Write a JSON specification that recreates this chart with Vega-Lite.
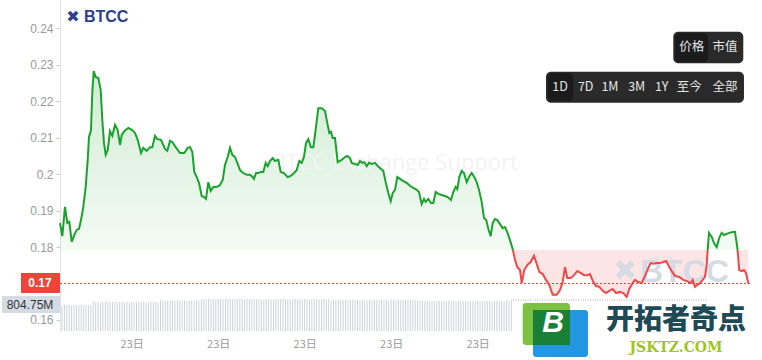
{
"$schema":"https://vega.github.io/schema/vega-lite/v6.json",
"width":690,"height":331,
"autosize":{"type":"none"},
"padding":{"left":60,"top":0,"right":12,"bottom":29},
"background":"white",
"config":{"view":{"stroke":null},"font":"Liberation Sans"},
"datasets":{
"price":[
{"t":0.513,"v":0.1866},{"t":0.593,"v":0.1830},{"t":0.686,"v":0.1910},{"t":0.766,"v":0.1866},{"t":0.836,"v":0.1869},{"t":0.919,"v":0.1814},{"t":1.009,"v":0.1833},{"t":1.092,"v":0.1847},{"t":1.172,"v":0.1850},{"t":1.241,"v":0.1874},{"t":1.321,"v":0.1910},{"t":1.404,"v":0.1965},{"t":1.474,"v":0.2039},{"t":1.519,"v":0.2102},{"t":1.588,"v":0.2121},{"t":1.633,"v":0.2223},{"t":1.682,"v":0.2283},{"t":1.751,"v":0.2266},{"t":1.841,"v":0.2264},{"t":1.925,"v":0.2231},{"t":1.980,"v":0.2149},{"t":2.039,"v":0.2085},{"t":2.098,"v":0.2053},{"t":2.168,"v":0.2066},{"t":2.247,"v":0.2118},{"t":2.327,"v":0.2105},{"t":2.421,"v":0.2135},{"t":2.514,"v":0.2121},{"t":2.594,"v":0.2080},{"t":2.653,"v":0.2107},{"t":2.743,"v":0.2118},{"t":2.882,"v":0.2127},{"t":3.021,"v":0.2121},{"t":3.114,"v":0.2113},{"t":3.208,"v":0.2094},{"t":3.323,"v":0.2058},{"t":3.402,"v":0.2072},{"t":3.520,"v":0.2064},{"t":3.635,"v":0.2074},{"t":3.714,"v":0.2074},{"t":3.808,"v":0.2105},{"t":3.888,"v":0.2096},{"t":4.016,"v":0.2094},{"t":4.155,"v":0.2069},{"t":4.235,"v":0.2064},{"t":4.328,"v":0.2091},{"t":4.408,"v":0.2088},{"t":4.526,"v":0.2074},{"t":4.675,"v":0.2058},{"t":4.824,"v":0.2058},{"t":4.942,"v":0.2072},{"t":5.022,"v":0.2074},{"t":5.102,"v":0.2061},{"t":5.171,"v":0.2006},{"t":5.255,"v":0.1992},{"t":5.334,"v":0.1976},{"t":5.428,"v":0.1940},{"t":5.508,"v":0.1937},{"t":5.577,"v":0.1932},{"t":5.657,"v":0.1978},{"t":5.740,"v":0.1954},{"t":5.830,"v":0.1965},{"t":5.948,"v":0.1965},{"t":6.063,"v":0.1970},{"t":6.157,"v":0.1984},{"t":6.236,"v":0.2025},{"t":6.330,"v":0.2047},{"t":6.410,"v":0.2072},{"t":6.490,"v":0.2053},{"t":6.583,"v":0.2047},{"t":6.663,"v":0.2031},{"t":6.757,"v":0.2011},{"t":6.871,"v":0.2003},{"t":6.989,"v":0.1998},{"t":7.104,"v":0.1998},{"t":7.197,"v":0.1992},{"t":7.242,"v":0.1987},{"t":7.312,"v":0.2003},{"t":7.391,"v":0.2003},{"t":7.475,"v":0.2006},{"t":7.565,"v":0.2006},{"t":7.648,"v":0.2031},{"t":7.717,"v":0.2022},{"t":7.797,"v":0.2036},{"t":7.891,"v":0.2044},{"t":7.971,"v":0.2036},{"t":8.085,"v":0.2039},{"t":8.168,"v":0.2006},{"t":8.283,"v":0.2003},{"t":8.411,"v":0.1992},{"t":8.515,"v":0.1995},{"t":8.630,"v":0.2003},{"t":8.723,"v":0.2011},{"t":8.813,"v":0.2036},{"t":8.897,"v":0.2031},{"t":8.976,"v":0.2047},{"t":9.046,"v":0.2085},{"t":9.125,"v":0.2096},{"t":9.219,"v":0.2074},{"t":9.299,"v":0.2074},{"t":9.393,"v":0.2129},{"t":9.472,"v":0.2181},{"t":9.590,"v":0.2181},{"t":9.705,"v":0.2173},{"t":9.785,"v":0.2140},{"t":9.854,"v":0.2113},{"t":9.913,"v":0.2116},{"t":9.972,"v":0.2099},{"t":10.052,"v":0.2099},{"t":10.145,"v":0.2033},{"t":10.284,"v":0.2039},{"t":10.398,"v":0.2047},{"t":10.478,"v":0.2050},{"t":10.572,"v":0.2044},{"t":10.630,"v":0.2031},{"t":10.745,"v":0.2028},{"t":10.839,"v":0.2025},{"t":10.919,"v":0.2036},{"t":10.998,"v":0.2031},{"t":11.068,"v":0.2033},{"t":11.151,"v":0.2022},{"t":11.231,"v":0.2031},{"t":11.325,"v":0.2028},{"t":11.439,"v":0.2031},{"t":11.533,"v":0.2022},{"t":11.647,"v":0.2014},{"t":11.727,"v":0.2009},{"t":11.810,"v":0.1978},{"t":11.900,"v":0.1948},{"t":11.984,"v":0.1926},{"t":12.053,"v":0.1948},{"t":12.133,"v":0.1957},{"t":12.213,"v":0.1992},{"t":12.306,"v":0.1987},{"t":12.421,"v":0.1981},{"t":12.539,"v":0.1976},{"t":12.653,"v":0.1968},{"t":12.768,"v":0.1962},{"t":12.886,"v":0.1957},{"t":12.965,"v":0.1951},{"t":13.059,"v":0.1918},{"t":13.139,"v":0.1932},{"t":13.198,"v":0.1924},{"t":13.288,"v":0.1932},{"t":13.382,"v":0.1921},{"t":13.461,"v":0.1921},{"t":13.544,"v":0.1951},{"t":13.635,"v":0.1946},{"t":13.753,"v":0.1943},{"t":13.867,"v":0.1940},{"t":13.961,"v":0.1937},{"t":14.075,"v":0.1929},{"t":14.155,"v":0.1951},{"t":14.238,"v":0.1965},{"t":14.294,"v":0.1959},{"t":14.363,"v":0.1992},{"t":14.447,"v":0.2009},{"t":14.526,"v":0.2003},{"t":14.620,"v":0.1978},{"t":14.700,"v":0.1992},{"t":14.793,"v":0.2003},{"t":14.883,"v":0.1992},{"t":14.966,"v":0.1978},{"t":15.046,"v":0.1957},{"t":15.140,"v":0.1924},{"t":15.220,"v":0.1880},{"t":15.299,"v":0.1874},{"t":15.369,"v":0.1850},{"t":15.452,"v":0.1830},{"t":15.521,"v":0.1866},{"t":15.601,"v":0.1877},{"t":15.681,"v":0.1874},{"t":15.775,"v":0.1863},{"t":15.868,"v":0.1852},{"t":15.948,"v":0.1855},{"t":16.028,"v":0.1841},{"t":16.122,"v":0.1819},{"t":16.215,"v":0.1795},{"t":16.295,"v":0.1765},{"t":16.375,"v":0.1745},{"t":16.469,"v":0.1737},{"t":16.528,"v":0.1701},{"t":16.618,"v":0.1737},{"t":16.722,"v":0.1751},{"t":16.840,"v":0.1759},{"t":16.954,"v":0.1776},{"t":17.048,"v":0.1754},{"t":17.138,"v":0.1732},{"t":17.256,"v":0.1726},{"t":17.370,"v":0.1710},{"t":17.485,"v":0.1696},{"t":17.603,"v":0.1669},{"t":17.742,"v":0.1669},{"t":17.856,"v":0.1682},{"t":17.950,"v":0.1704},{"t":18.030,"v":0.1745},{"t":18.109,"v":0.1715},{"t":18.227,"v":0.1715},{"t":18.342,"v":0.1723},{"t":18.456,"v":0.1734},{"t":18.574,"v":0.1729},{"t":18.689,"v":0.1723},{"t":18.803,"v":0.1723},{"t":18.897,"v":0.1726},{"t":19.011,"v":0.1704},{"t":19.105,"v":0.1693},{"t":19.219,"v":0.1691},{"t":19.337,"v":0.1680},{"t":19.452,"v":0.1674},{"t":19.566,"v":0.1680},{"t":19.684,"v":0.1685},{"t":19.798,"v":0.1674},{"t":19.937,"v":0.1677},{"t":20.052,"v":0.1674},{"t":20.170,"v":0.1663},{"t":20.260,"v":0.1685},{"t":20.378,"v":0.1701},{"t":20.458,"v":0.1710},{"t":20.572,"v":0.1704},{"t":20.690,"v":0.1701},{"t":20.805,"v":0.1721},{"t":20.919,"v":0.1743},{"t":21.002,"v":0.1756},{"t":21.093,"v":0.1754},{"t":21.210,"v":0.1756},{"t":21.325,"v":0.1756},{"t":21.439,"v":0.1759},{"t":21.533,"v":0.1762},{"t":21.613,"v":0.1751},{"t":21.731,"v":0.1734},{"t":21.845,"v":0.1721},{"t":21.994,"v":0.1718},{"t":22.133,"v":0.1710},{"t":22.251,"v":0.1707},{"t":22.390,"v":0.1701},{"t":22.459,"v":0.1710},{"t":22.539,"v":0.1691},{"t":22.619,"v":0.1696},{"t":22.712,"v":0.1701},{"t":22.806,"v":0.1710},{"t":22.885,"v":0.1718},{"t":22.944,"v":0.1751},{"t":22.979,"v":0.1792},{"t":23.024,"v":0.1839},{"t":23.118,"v":0.1828},{"t":23.198,"v":0.1811},{"t":23.291,"v":0.1800},{"t":23.381,"v":0.1825},{"t":23.464,"v":0.1839},{"t":23.544,"v":0.1833},{"t":23.638,"v":0.1836},{"t":23.728,"v":0.1839},{"t":23.846,"v":0.1841},{"t":23.926,"v":0.1841},{"t":24.006,"v":0.1800},{"t":24.075,"v":0.1737},{"t":24.159,"v":0.1734},{"t":24.239,"v":0.1737},{"t":24.308,"v":0.1729},{"t":24.388,"v":0.1701}
],
"vol":[
{"t":0.5833,"vol":785},{"t":0.6667,"vol":797},{"t":0.75,"vol":777},{"t":0.8333,"vol":790},{"t":0.9167,"vol":770},{"t":1,"vol":794},{"t":1.0833,"vol":788},{"t":1.1667,"vol":775},{"t":1.25,"vol":799},{"t":1.3333,"vol":781},{"t":1.4167,"vol":792},{"t":1.5,"vol":773},{"t":1.5833,"vol":785},
{"t":1.6667,"vol":888},{"t":1.75,"vol":868},{"t":1.8333,"vol":881},{"t":1.9167,"vol":861},{"t":2,"vol":885},{"t":2.0833,"vol":879},{"t":2.1667,"vol":866},{"t":2.25,"vol":890},{"t":2.3333,"vol":872},{"t":2.4167,"vol":883},{"t":2.5,"vol":864},{"t":2.5833,"vol":876},{"t":2.6667,"vol":888},{"t":2.75,"vol":868},{"t":2.8333,"vol":881},{"t":2.9167,"vol":861},{"t":3,"vol":885},{"t":3.0833,"vol":879},{"t":3.1667,"vol":866},{"t":3.25,"vol":890},{"t":3.3333,"vol":872},{"t":3.4167,"vol":883},{"t":3.5,"vol":864},{"t":3.5833,"vol":876},{"t":3.6667,"vol":888},{"t":3.75,"vol":868},{"t":3.8333,"vol":881},{"t":3.9167,"vol":861},
{"t":4,"vol":930},{"t":4.0833,"vol":924},{"t":4.1667,"vol":911},{"t":4.25,"vol":935},{"t":4.3333,"vol":917},{"t":4.4167,"vol":928},{"t":4.5,"vol":909},{"t":4.5833,"vol":921},{"t":4.6667,"vol":933},{"t":4.75,"vol":913},{"t":4.8333,"vol":926},{"t":4.9167,"vol":906},{"t":5,"vol":930},{"t":5.0833,"vol":924},{"t":5.1667,"vol":911},{"t":5.25,"vol":935},{"t":5.3333,"vol":917},
{"t":5.4167,"vol":974},{"t":5.5,"vol":955},{"t":5.5833,"vol":967},{"t":5.6667,"vol":979},{"t":5.75,"vol":959},{"t":5.8333,"vol":972},{"t":5.9167,"vol":952},{"t":6,"vol":976},{"t":6.0833,"vol":970},{"t":6.1667,"vol":957},{"t":6.25,"vol":981},{"t":6.3333,"vol":963},{"t":6.4167,"vol":974},{"t":6.5,"vol":955},{"t":6.5833,"vol":967},{"t":6.6667,"vol":979},{"t":6.75,"vol":959},{"t":6.8333,"vol":972},{"t":6.9167,"vol":952},{"t":7,"vol":976},{"t":7.0833,"vol":970},
{"t":7.1667,"vol":950},{"t":7.25,"vol":974},{"t":7.3333,"vol":956},{"t":7.4167,"vol":967},{"t":7.5,"vol":948},{"t":7.5833,"vol":960},{"t":7.6667,"vol":972},{"t":7.75,"vol":952},{"t":7.8333,"vol":965},{"t":7.9167,"vol":945},{"t":8,"vol":969},{"t":8.0833,"vol":963},{"t":8.1667,"vol":950},{"t":8.25,"vol":974},{"t":8.3333,"vol":956},{"t":8.4167,"vol":967},{"t":8.5,"vol":948},{"t":8.5833,"vol":960},{"t":8.6667,"vol":972},{"t":8.75,"vol":952},{"t":8.8333,"vol":965},{"t":8.9167,"vol":945},{"t":9,"vol":969},{"t":9.0833,"vol":963},{"t":9.1667,"vol":950},{"t":9.25,"vol":974},{"t":9.3333,"vol":956},{"t":9.4167,"vol":967},{"t":9.5,"vol":948},{"t":9.5833,"vol":960},{"t":9.6667,"vol":972},{"t":9.75,"vol":952},{"t":9.8333,"vol":965},
{"t":9.9167,"vol":922},{"t":10,"vol":946},{"t":10.0833,"vol":940},{"t":10.1667,"vol":927},{"t":10.25,"vol":951},{"t":10.3333,"vol":933},{"t":10.4167,"vol":944},{"t":10.5,"vol":925},{"t":10.5833,"vol":937},{"t":10.6667,"vol":949},{"t":10.75,"vol":929},{"t":10.8333,"vol":942},{"t":10.9167,"vol":922},{"t":11,"vol":946},{"t":11.0833,"vol":940},{"t":11.1667,"vol":927},{"t":11.25,"vol":951},{"t":11.3333,"vol":933},{"t":11.4167,"vol":944},{"t":11.5,"vol":925},{"t":11.5833,"vol":937},{"t":11.6667,"vol":949},{"t":11.75,"vol":929},{"t":11.8333,"vol":942},{"t":11.9167,"vol":922},{"t":12,"vol":946},{"t":12.0833,"vol":940},{"t":12.1667,"vol":927},{"t":12.25,"vol":951},{"t":12.3333,"vol":933},{"t":12.4167,"vol":944},{"t":12.5,"vol":925},{"t":12.5833,"vol":937},{"t":12.6667,"vol":949},{"t":12.75,"vol":929},{"t":12.8333,"vol":942},{"t":12.9167,"vol":922},
{"t":13,"vol":915},{"t":13.0833,"vol":909},{"t":13.1667,"vol":896},{"t":13.25,"vol":920},{"t":13.3333,"vol":902},{"t":13.4167,"vol":913},{"t":13.5,"vol":894},{"t":13.5833,"vol":906},{"t":13.6667,"vol":918},{"t":13.75,"vol":898},{"t":13.8333,"vol":911},{"t":13.9167,"vol":891},{"t":14,"vol":915},{"t":14.0833,"vol":909},{"t":14.1667,"vol":896},{"t":14.25,"vol":920},{"t":14.3333,"vol":902},{"t":14.4167,"vol":913},{"t":14.5,"vol":894},{"t":14.5833,"vol":906},{"t":14.6667,"vol":918},{"t":14.75,"vol":898},{"t":14.8333,"vol":911},{"t":14.9167,"vol":891},{"t":15,"vol":915},{"t":15.0833,"vol":909},{"t":15.1667,"vol":896},{"t":15.25,"vol":920},{"t":15.3333,"vol":902},{"t":15.4167,"vol":913},{"t":15.5,"vol":894},{"t":15.5833,"vol":906},{"t":15.6667,"vol":918},{"t":15.75,"vol":898},{"t":15.8333,"vol":911},{"t":15.9167,"vol":891},{"t":16,"vol":915},{"t":16.0833,"vol":909},
{"t":16.1667,"vol":954},{"t":16.25,"vol":978},{"t":16.3333,"vol":960},{"t":16.4167,"vol":971},{"t":16.5,"vol":952},{"t":16.5833,"vol":964},{"t":16.6667,"vol":976},{"t":16.75,"vol":956},{"t":16.8333,"vol":969},{"t":16.9167,"vol":949},{"t":17,"vol":973},{"t":17.0833,"vol":967},{"t":17.1667,"vol":954},{"t":17.25,"vol":967},{"t":17.3333,"vol":979},{"t":17.4167,"vol":959},{"t":17.5,"vol":972},{"t":17.5833,"vol":952},{"t":17.6667,"vol":976},{"t":17.75,"vol":970},{"t":17.8333,"vol":957},{"t":17.9167,"vol":981},{"t":18,"vol":963},{"t":18.0833,"vol":974},{"t":18.1667,"vol":955},{"t":18.25,"vol":967},{"t":18.3333,"vol":979},{"t":18.4167,"vol":959},{"t":18.5,"vol":972},{"t":18.5833,"vol":952},{"t":18.6667,"vol":976},{"t":18.75,"vol":970},{"t":18.8333,"vol":957},{"t":18.9167,"vol":981},{"t":19,"vol":963},{"t":19.0833,"vol":974},{"t":19.1667,"vol":955},{"t":19.25,"vol":967},{"t":19.3333,"vol":979},{"t":19.4167,"vol":959},{"t":19.5,"vol":972},{"t":19.5833,"vol":952},{"t":19.6667,"vol":976},{"t":19.75,"vol":970},{"t":19.8333,"vol":957},{"t":19.9167,"vol":981},{"t":20,"vol":963},{"t":20.0833,"vol":974},{"t":20.1667,"vol":955},{"t":20.25,"vol":967},{"t":20.3333,"vol":979},{"t":20.4167,"vol":959},{"t":20.5,"vol":972},{"t":20.5833,"vol":952},{"t":20.6667,"vol":976},{"t":20.75,"vol":970},{"t":20.8333,"vol":957},{"t":20.9167,"vol":981},{"t":21,"vol":963},{"t":21.0833,"vol":974},{"t":21.1667,"vol":955},{"t":21.25,"vol":967},{"t":21.3333,"vol":979},{"t":21.4167,"vol":959},{"t":21.5,"vol":972},{"t":21.5833,"vol":952},{"t":21.6667,"vol":976},{"t":21.75,"vol":970},{"t":21.8333,"vol":957},{"t":21.9167,"vol":981},{"t":22,"vol":963},{"t":22.0833,"vol":974},{"t":22.1667,"vol":955},{"t":22.25,"vol":967},{"t":22.3333,"vol":979},{"t":22.4167,"vol":959},{"t":22.5,"vol":972},{"t":22.5833,"vol":952},{"t":22.6667,"vol":976},{"t":22.75,"vol":970},{"t":22.8333,"vol":957},{"t":22.9167,"vol":981}
]
},
"layer":[
{"data":{"name":"vol"},
 "mark":{"type":"rule","color":"#cdd2da","strokeWidth":1},
 "encoding":{
  "x":{"field":"t","type":"quantitative","scale":{"domain":[0.513,24.447],"nice":false,"zero":false}},
  "y":{"field":"vol","type":"quantitative","scale":{"domain":[0,10000],"nice":false,"zero":false},"axis":null},
  "y2":{"datum":0}}},
{"data":{"name":"price"},
 "layer":[
  {"mark":{"type":"area","line":false,"fill":{"gradient":"linear","x1":0,"y1":0,"x2":0,"y2":1,"stops":[{"offset":0,"color":"rgba(38,166,50,0.21)"},{"offset":0.79,"color":"rgba(38,166,50,0.05)"},{"offset":0.7919,"color":"rgba(240,70,70,0.14)"},{"offset":1,"color":"rgba(240,70,70,0.14)"}]}},
   "encoding":{
    "x":{"field":"t","type":"quantitative","scale":{"domain":[0.513,24.447],"nice":false,"zero":false},
      "axis":{"values":[3,6,9,12,15],"labelExpr":"'23日'","title":null,"domain":false,"ticks":false,"grid":false,"labelColor":"#9a9a9a","labelFontSize":11,"labelPadding":7,"labelFont":"Noto Sans CJK SC"}},
    "y":{"field":"v","type":"quantitative","scale":{"domain":[0.15698,0.24776],"nice":false,"zero":false},
      "axis":{"orient":"left","values":[0.16,0.18,0.19,0.2,0.21,0.22,0.23,0.24],"labelExpr":"format(datum.value,'.2~f')","title":null,"grid":false,"domainColor":"#e3e3e3","tickColor":"#c8c8c8","tickSize":4,"labelColor":"#9a9a9a","labelFontSize":12,"labelPadding":3,"labelFont":"Liberation Sans"}},
    "y2":{"datum":0.1792}}},
  {"data":{"values":[{}]},"mark":{"type":"text","text":"BTCC Exchange Support","font":"Open Sans","fontSize":22,"color":"#f3f3f3","align":"center","baseline":"middle"},
   "encoding":{"x":{"datum":12.133,"type":"quantitative"},"y":{"datum":0.20305,"type":"quantitative"}}},
  {"data":{"values":[{}]},"mark":{"type":"text","text":"✖","font":"DejaVu Sans","fontSize":28,"color":"#d5dae5","align":"center","baseline":"middle"},
   "encoding":{"x":{"datum":20.111,"type":"quantitative"},"y":{"datum":0.17316,"type":"quantitative"}}},
  {"data":{"values":[{}]},"mark":{"type":"text","text":"BTCC","font":"Liberation Sans","fontWeight":"bold","fontSize":32,"color":"#d5dae5","align":"left","baseline":"middle"},
   "encoding":{"x":{"datum":20.631,"type":"quantitative"},"y":{"datum":0.17316,"type":"quantitative"}}},
  {"data":{"values":[{}]},"mark":{"type":"rule","color":"#e2402f","strokeDash":[2,2],"strokeWidth":1},
   "encoding":{"y":{"datum":0.17,"type":"quantitative"}}},
  {"mark":{"type":"line","strokeWidth":2,"stroke":{"gradient":"linear","x1":0,"y1":0,"x2":0,"y2":1,"stops":[{"offset":0,"color":"#1aa32c"},{"offset":0.7919,"color":"#1aa32c"},{"offset":0.7919,"color":"#f04848"},{"offset":1,"color":"#f04848"}]}},
   "encoding":{"x":{"field":"t","type":"quantitative"},"y":{"field":"v","type":"quantitative"}}},
  {"data":{"values":[{}]},"mark":{"type":"rect","color":"#f0443a"},
   "encoding":{"x":{"datum":-0.84,"type":"quantitative"},"x2":{"datum":0.513},"y":{"datum":0.17288,"type":"quantitative"},"y2":{"datum":0.1674}}},
  {"data":{"values":[{}]},"mark":{"type":"text","text":"0.17","font":"Liberation Sans","fontWeight":"bold","fontSize":12,"color":"#ffffff","align":"center","baseline":"middle"},
   "encoding":{"x":{"datum":-0.181,"type":"quantitative"},"y":{"datum":0.17014,"type":"quantitative"}}},
  {"data":{"values":[{}]},"mark":{"type":"rect","color":"#d5dbe5"},
   "encoding":{"x":{"datum":-1.499,"type":"quantitative"},"x2":{"datum":0.513},"y":{"datum":0.16658,"type":"quantitative"},"y2":{"datum":0.16191}}},
  {"data":{"values":[{}]},"mark":{"type":"text","text":"804.75M","font":"Liberation Sans","fontSize":12,"color":"#333333","align":"center","baseline":"middle"},
   "encoding":{"x":{"datum":-0.528,"type":"quantitative"},"y":{"datum":0.16411,"type":"quantitative"}}},
  {"data":{"values":[{}]},"mark":{"type":"text","text":"✖","font":"DejaVu Sans","fontSize":16,"color":"#2d3f8e","align":"center","baseline":"middle"},
   "encoding":{"x":{"datum":0.964,"type":"quantitative"},"y":{"datum":0.2431,"type":"quantitative"}}},
  {"data":{"values":[{}]},"mark":{"type":"text","text":"BTCC","font":"Liberation Sans","fontWeight":"bold","fontSize":16,"color":"#2d3f8e","align":"left","baseline":"middle"},
   "encoding":{"x":{"datum":1.345,"type":"quantitative"},"y":{"datum":0.2431,"type":"quantitative"}}},
  {"data":{"values":[{}]},"mark":{"type":"rect","color":"#2a2a2a","cornerRadius":5},
   "encoding":{"x":{"datum":21.786,"type":"quantitative"},"x2":{"datum":24.214},"y":{"datum":0.23907,"type":"quantitative"},"y2":{"datum":0.2304}}},
  {"data":{"values":[{}]},"mark":{"type":"rect","color":"#1b1b1b","cornerRadius":4},
   "encoding":{"x":{"datum":21.845,"type":"quantitative"},"x2":{"datum":22.99},"y":{"datum":0.23871,"type":"quantitative"},"y2":{"datum":0.23076}}},
  {"data":{"values":[{}]},"mark":{"type":"text","text":"价格","font":"Noto Sans CJK SC","fontSize":12.5,"color":"#e6e6e6","align":"center","baseline":"middle"},
   "encoding":{"x":{"datum":22.424,"type":"quantitative"},"y":{"datum":0.23495,"type":"quantitative"}}},
  {"data":{"values":[{}]},"mark":{"type":"text","text":"市值","font":"Noto Sans CJK SC","fontSize":12.5,"color":"#e6e6e6","align":"center","baseline":"middle"},
   "encoding":{"x":{"datum":23.579,"type":"quantitative"},"y":{"datum":0.23495,"type":"quantitative"}}},
  {"data":{"values":[{}]},"mark":{"type":"rect","color":"#2a2a2a","cornerRadius":5},
   "encoding":{"x":{"datum":17.37,"type":"quantitative"},"x2":{"datum":24.238},"y":{"datum":0.2281,"type":"quantitative"},"y2":{"datum":0.21959}}},
  {"data":{"values":[{}]},"mark":{"type":"rect","color":"#1b1b1b","cornerRadius":4},
   "encoding":{"x":{"datum":17.44,"type":"quantitative"},"x2":{"datum":18.307},"y":{"datum":0.22774,"type":"quantitative"},"y2":{"datum":0.22006}}},
  {"data":{"values":[{}]},"mark":{"type":"text","text":"1D","font":"Noto Sans CJK SC","fontSize":12.5,"color":"#e6e6e6","align":"center","baseline":"middle"},
   "encoding":{"x":{"datum":17.856,"type":"quantitative"},"y":{"datum":0.22382,"type":"quantitative"}}},
  {"data":{"values":[{}]},"mark":{"type":"text","text":"7D","font":"Noto Sans CJK SC","fontSize":12.5,"color":"#e6e6e6","align":"center","baseline":"middle"},
   "encoding":{"x":{"datum":18.747,"type":"quantitative"},"y":{"datum":0.22382,"type":"quantitative"}}},
  {"data":{"values":[{}]},"mark":{"type":"text","text":"1M","font":"Noto Sans CJK SC","fontSize":12.5,"color":"#e6e6e6","align":"center","baseline":"middle"},
   "encoding":{"x":{"datum":19.59,"type":"quantitative"},"y":{"datum":0.22382,"type":"quantitative"}}},
  {"data":{"values":[{}]},"mark":{"type":"text","text":"3M","font":"Noto Sans CJK SC","fontSize":12.5,"color":"#e6e6e6","align":"center","baseline":"middle"},
   "encoding":{"x":{"datum":20.516,"type":"quantitative"},"y":{"datum":0.22382,"type":"quantitative"}}},
  {"data":{"values":[{}]},"mark":{"type":"text","text":"1Y","font":"Noto Sans CJK SC","fontSize":12.5,"color":"#e6e6e6","align":"center","baseline":"middle"},
   "encoding":{"x":{"datum":21.384,"type":"quantitative"},"y":{"datum":0.22382,"type":"quantitative"}}},
  {"data":{"values":[{}]},"mark":{"type":"text","text":"至今","font":"Noto Sans CJK SC","fontSize":12.5,"color":"#e6e6e6","align":"center","baseline":"middle"},
   "encoding":{"x":{"datum":22.341,"type":"quantitative"},"y":{"datum":0.22382,"type":"quantitative"}}},
  {"data":{"values":[{}]},"mark":{"type":"text","text":"全部","font":"Noto Sans CJK SC","fontSize":12.5,"color":"#e6e6e6","align":"center","baseline":"middle"},
   "encoding":{"x":{"datum":23.579,"type":"quantitative"},"y":{"datum":0.22382,"type":"quantitative"}}},
  {"data":{"values":[{}]},"mark":{"type":"rect","color":"#ffffff"},
   "encoding":{"x":{"datum":16.191,"type":"quantitative"},"x2":{"datum":24.863},"y":{"datum":0.16521,"type":"quantitative"},"y2":{"datum":0.14902}}},
  {"data":{"values":[{}]},"mark":{"type":"rect","color":"#7dc143","cornerRadius":3},
   "encoding":{"x":{"datum":16.562,"type":"quantitative"},"x2":{"datum":18.203},"y":{"datum":0.16466,"type":"quantitative"},"y2":{"datum":0.15314}}},
  {"data":{"values":[{}]},"mark":{"type":"rect","color":"#2497e3","cornerRadius":3},
   "encoding":{"x":{"datum":16.919,"type":"quantitative"},"x2":{"datum":18.827},"y":{"datum":0.16274,"type":"quantitative"},"y2":{"datum":0.14985}}},
  {"data":{"values":[{}]},"mark":{"type":"rect","color":"#1a7f37"},
   "encoding":{"x":{"datum":16.919,"type":"quantitative"},"x2":{"datum":18.203},"y":{"datum":0.16274,"type":"quantitative"},"y2":{"datum":0.15314}}},
  {"data":{"values":[{}]},"mark":{"type":"text","text":"B","font":"Liberation Sans","fontWeight":"bold","fontStyle":"italic","fontSize":30,"color":"#ffffff","align":"center","baseline":"middle"},
   "encoding":{"x":{"datum":17.613,"type":"quantitative"},"y":{"datum":0.15917,"type":"quantitative"}}},
  {"data":{"values":[{}]},"mark":{"type":"text","text":"开拓者奇点","font":"Noto Sans CJK SC","fontWeight":900,"fontSize":28,"color":"#1d4a55","align":"center","baseline":"middle"},
   "encoding":{"x":{"datum":21.88,"type":"quantitative"},"y":{"datum":0.15972,"type":"quantitative"}}},
  {"data":{"values":[{}]},"mark":{"type":"text","text":"JSKTZ.COM","font":"DejaVu Serif","fontWeight":"bold","fontSize":14,"color":"#a0c41e","align":"center","baseline":"middle"},
   "encoding":{"x":{"datum":21.88,"type":"quantitative"},"y":{"datum":0.15231,"type":"quantitative"}}}
 ]}
],
"resolve":{"scale":{"y":"independent"}}
}
